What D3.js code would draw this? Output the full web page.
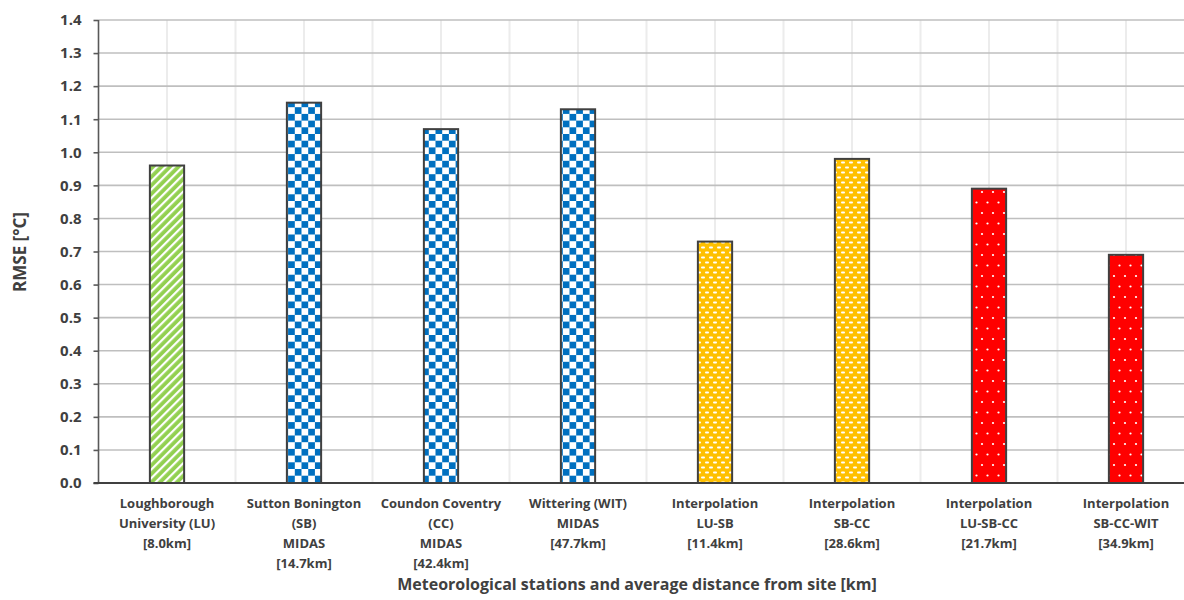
<!DOCTYPE html>
<html>
<head>
<meta charset="utf-8">
<script src="https://cdn.jsdelivr.net/npm/d3@7"></script>
<style>
  html, body { margin: 0; padding: 0; background: #fff; }
  svg { display: block; font-family: "Open Sans", "Noto Sans", sans-serif; }
</style>
</head>
<body>
<svg id="chart" width="1184" height="600"></svg>
<script>
// ---- data ----
const categories = [
  ["Loughborough", "University (LU)", "[8.0km]"],
  ["Sutton Bonington", "(SB)", "MIDAS", "[14.7km]"],
  ["Coundon Coventry", "(CC)", "MIDAS", "[42.4km]"],
  ["Wittering (WIT)", "MIDAS", "[47.7km]"],
  ["Interpolation", "LU-SB", "[11.4km]"],
  ["Interpolation", "SB-CC", "[28.6km]"],
  ["Interpolation", "LU-SB-CC", "[21.7km]"],
  ["Interpolation", "SB-CC-WIT", "[34.9km]"]
];
const rmse = [0.96, 1.15, 1.07, 1.13, 0.73, 0.98, 0.89, 0.69];
const patternKind = ["stripe", "check", "check", "check", "brick", "brick", "dot", "dot"];
const yTicks = [0, 0.1, 0.2, 0.3, 0.4, 0.5, 0.6, 0.7, 0.8, 0.9, 1.0, 1.1, 1.2, 1.3, 1.4];
const yTitle = "RMSE [°C]";
const xTitle = "Meteorological stations and average distance from site [km]";

// ---- layout ----
const svg = d3.select("#chart");
const mLeft = 98.5, mRight = 1194.5, mTop = 20, mBottom = 483;
const idx = categories.map((d, i) => i);
const x = d3.scaleBand().domain(idx).range([mLeft, mRight]).padding(0);
const y = d3.scaleLinear().domain([0, 1.4]).range([mBottom, mTop]);
const barW = x.bandwidth() * 0.25;

// ---- patterns ----
const defs = svg.append("defs");
const ps = defs.append("pattern").attr("id", "stripe").attr("patternUnits", "userSpaceOnUse")
  .attr("width", 6).attr("height", 6).attr("patternTransform", "rotate(45)");
ps.append("rect").attr("width", 6).attr("height", 6).attr("fill", "#92d050");
ps.append("rect").attr("x", 0).attr("width", 2.2).attr("height", 6).attr("fill", "#ffffff");

const pc = defs.append("pattern").attr("id", "check").attr("patternUnits", "userSpaceOnUse")
  .attr("width", 13.4).attr("height", 13.4).attr("x", 0).attr("y", 0);
pc.append("rect").attr("width", 13.4).attr("height", 13.4).attr("fill", "#ffffff");
pc.append("rect").attr("width", 6.7).attr("height", 6.7).attr("fill", "#0070c0");
pc.append("rect").attr("x", 6.7).attr("y", 6.7).attr("width", 6.7).attr("height", 6.7).attr("fill", "#0070c0");

const pb = defs.append("pattern").attr("id", "brick").attr("patternUnits", "userSpaceOnUse")
  .attr("width", 8).attr("height", 10);
pb.append("rect").attr("width", 8).attr("height", 10).attr("fill", "#ffc000");
pb.append("rect").attr("x", 1).attr("y", 1.5).attr("width", 4).attr("height", 2).attr("rx", 1).attr("fill", "#ffffff");
pb.append("rect").attr("x", 5).attr("y", 6.5).attr("width", 4).attr("height", 2).attr("rx", 1).attr("fill", "#ffffff");
pb.append("rect").attr("x", -3).attr("y", 6.5).attr("width", 4).attr("height", 2).attr("rx", 1).attr("fill", "#ffffff");

const pd = defs.append("pattern").attr("id", "dot").attr("patternUnits", "userSpaceOnUse")
  .attr("width", 11).attr("height", 21);
pd.append("rect").attr("width", 11).attr("height", 21).attr("fill", "#ff0000");
pd.append("circle").attr("cx", 3).attr("cy", 3).attr("r", 1.1).attr("fill", "#ffffff");
pd.append("circle").attr("cx", 8.5).attr("cy", 13.5).attr("r", 1.1).attr("fill", "#ffffff");

// ---- gridlines ----
const vLines = [];
idx.forEach(i => { vLines.push(x(i)); vLines.push(x(i) + x.bandwidth() / 2); });
svg.append("g").selectAll("line").data(vLines.filter(v => v > mLeft + 1)).join("line")
  .attr("x1", d => d).attr("x2", d => d).attr("y1", mTop).attr("y2", mBottom)
  .attr("stroke", "#ececec").attr("stroke-width", 2);
svg.append("g").selectAll("line").data(yTicks.slice(1)).join("line")
  .attr("x1", mLeft).attr("x2", 1184).attr("y1", d => y(d)).attr("y2", d => y(d))
  .attr("stroke", "#bfbfbf").attr("stroke-width", 1.6);

// ---- bars ----
svg.append("g").selectAll("rect").data(rmse).join("rect")
  .attr("x", (d, i) => x(i) + x.bandwidth() / 2 - barW / 2)
  .attr("y", d => y(d))
  .attr("width", barW)
  .attr("height", d => mBottom - y(d))
  .attr("fill", (d, i) => `url(#${patternKind[i]})`)
  .attr("stroke", "#404040").attr("stroke-width", 2);

// ---- axes ----
const yAxis = d3.axisLeft(y).tickValues(yTicks).tickFormat(d3.format(".1f")).tickSize(5).tickPadding(12);
const gy = svg.append("g").attr("transform", `translate(${mLeft},0)`).call(yAxis);
gy.select(".domain").attr("stroke", "#595959").attr("stroke-width", 1.6).attr("d", `M0,${mTop}V${mBottom}`);
gy.selectAll(".tick line").attr("stroke", "#595959").attr("stroke-width", 1.6);
gy.selectAll(".tick text").attr("fill", "#404040").attr("font-size", 15).attr("font-weight", "bold")
  .attr("font-family", "Open Sans, sans-serif");

svg.append("line").attr("x1", mLeft - 5).attr("x2", 1184).attr("y1", mBottom).attr("y2", mBottom)
  .attr("stroke", "#404040").attr("stroke-width", 2);

// category labels
const lab = svg.append("g").selectAll("text").data(categories).join("text")
  .attr("x", (d, i) => x(i) + x.bandwidth() / 2)
  .attr("y", 508)
  .attr("text-anchor", "middle")
  .attr("font-size", 13).attr("font-weight", "bold").attr("fill", "#404040");
lab.selectAll("tspan").data(d => d).join("tspan")
  .attr("x", function () { return d3.select(this.parentNode).attr("x"); })
  .attr("dy", (d, j) => j === 0 ? 0 : 20)
  .text(d => d);

// titles
svg.append("text").attr("transform", "translate(26,252) rotate(-90)")
  .attr("text-anchor", "middle").attr("font-size", 17).attr("font-weight", "bold").attr("fill", "#404040")
  .text(yTitle);
svg.append("text").attr("x", 637).attr("y", 590)
  .attr("text-anchor", "middle").attr("font-size", 16).attr("font-weight", "bold").attr("fill", "#404040")
  .text(xTitle);
</script>
</body>
</html>
